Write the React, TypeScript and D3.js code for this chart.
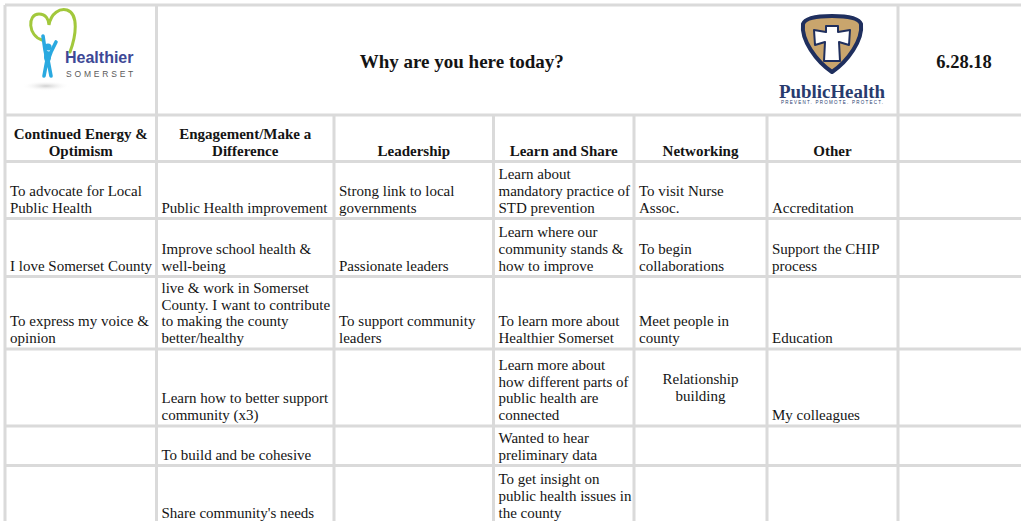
import { useEffect, useRef } from "react";
import * as d3 from "d3";

// column headers
const categories = [
  "Continued Energy &\nOptimism",
  "Engagement/Make a\nDifference",
  "Leadership",
  "Learn and Share",
  "Networking",
  "Other",
  "",
];

// responses per column (top to bottom)
const continuedEnergy = [
  "To advocate for Local\nPublic Health",
  "I love Somerset County",
  "To express my voice &\nopinion",
  "",
  "",
  "",
];
const engagement = [
  "Public Health improvement",
  "Improve school health &\nwell-being",
  "live & work in Somerset\nCounty. I want to contribute\nto making the county\nbetter/healthy",
  "Learn how to better support\ncommunity (x3)",
  "To build and be cohesive",
  "Share community's needs",
];
const leadership = [
  "Strong link to local\ngovernments",
  "Passionate leaders",
  "To support community\nleaders",
  "",
  "",
  "",
];
const learnShare = [
  "Learn about\nmandatory practice of\nSTD prevention",
  "Learn where our\ncommunity stands &\nhow to improve",
  "To learn more about\nHealthier Somerset",
  "Learn more about\nhow different parts of\npublic health are\nconnected",
  "Wanted to hear\npreliminary data",
  "To get insight on\npublic health issues in\nthe county",
];
const networking = [
  "To visit Nurse\nAssoc.",
  "To begin\ncollaborations",
  "Meet people in\ncounty",
  "Relationship\nbuilding",
  "",
  "",
];
const other = [
  "Accreditation",
  "Support the CHIP\nprocess",
  "Education",
  "My colleagues",
  "",
  "",
];
const blank = ["", "", "", "", "", ""];

const title = "Why are you here today?";
const dateLabel = "6.28.18";
// cells drawn centred (column, row)
const centredCells = [[4, 3]];

const App = () => {
  const svgRef = useRef<SVGSVGElement>(null);

  useEffect(() => {
    document.body.style.margin = "0";
    const svg = d3.select(svgRef.current);
    svg.selectAll("*").remove();

    const serif = "'Liberation Serif', 'Times New Roman', serif";
    const fs = 15;
    const lh = 16.7;
    const gridColor = "#dadada";

    const columns = [continuedEnergy, engagement, leadership, learnShare, networking, other, blank];
    const colWidths = [151.5, 177.5, 159.5, 140.5, 133, 131, 132];
    const rowHeights = [57, 58, 72.5, 77, 39.5, 58];
    const x0 = 5;
    const topRow = 110;
    const headRow = 46.5;

    const colEdges = [x0, ...d3.cumsum(colWidths).map((w) => x0 + w)];
    const yHead = x0 + topRow;
    const yBody = yHead + headRow;
    const rowEdges = [yBody, ...d3.cumsum(rowHeights).map((h) => yBody + h)];

    const col = d3.scaleBand<number>().domain(d3.range(columns.length)).range([0, 1]);
    const left = (i: number) => colEdges[col.domain().indexOf(i)];
    const right = (i: number) => colEdges[i + 1];

    const g = svg.append("g");

    // gridlines
    const hLines = [x0, yHead, ...rowEdges];
    g.selectAll(".hline")
      .data(hLines)
      .enter()
      .append("line")
      .attr("x1", x0)
      .attr("x2", 1030)
      .attr("y1", (d) => d)
      .attr("y2", (d) => d)
      .attr("stroke", gridColor)
      .attr("stroke-width", 3);

    // verticals: full height for edges present in the top row, else from header row
    const topEdges = [0, 1, 6];
    g.selectAll(".vline")
      .data(colEdges.slice(0, 7))
      .enter()
      .append("line")
      .attr("x1", (d) => d)
      .attr("x2", (d) => d)
      .attr("y1", (_, i) => (topEdges.includes(i) ? x0 : yHead))
      .attr("y2", 530)
      .attr("stroke", gridColor)
      .attr("stroke-width", 3);

    // title & date
    g.append("text")
      .attr("x", (colEdges[1] + colEdges[5]) / 2)
      .attr("y", 68)
      .attr("text-anchor", "middle")
      .attr("font-family", serif)
      .attr("font-weight", "bold")
      .attr("font-size", 19)
      .attr("fill", "#141414")
      .text(title);

    g.append("text")
      .attr("x", (colEdges[6] + colEdges[7]) / 2)
      .attr("y", 68)
      .attr("text-anchor", "middle")
      .attr("font-family", serif)
      .attr("font-weight", "bold")
      .attr("font-size", 18.5)
      .attr("fill", "#141414")
      .text(dateLabel);

    // multi-line text helper, bottom aligned unless centred
    const drawCell = (
      text: string,
      x1: number,
      x2: number,
      y1: number,
      y2: number,
      opts: { bold?: boolean; centre?: boolean; vcentre?: boolean }
    ) => {
      if (!text) return;
      const lines = text.split("\n");
      const n = lines.length;
      const firstBase = opts.vcentre
        ? (y1 + y2) / 2 - ((n - 1) * lh) / 2 + fs * 0.33
        : y2 - 6 - (n - 1) * lh;
      const t = g
        .append("text")
        .attr("font-family", serif)
        .attr("font-size", fs)
        .attr("font-weight", opts.bold ? "bold" : "normal")
        .attr("fill", "#141414")
        .attr("text-anchor", opts.centre ? "middle" : "start");
      t.selectAll("tspan")
        .data(lines)
        .enter()
        .append("tspan")
        .attr("x", opts.centre ? (x1 + x2) / 2 : x1 + 5)
        .attr("y", (_, i) => firstBase + i * lh)
        .text((d) => d);
    };

    categories.forEach((c, i) =>
      drawCell(c, left(i), right(i), yHead, yBody, { bold: true, centre: true })
    );

    columns.forEach((values, ci) => {
      values.forEach((v, ri) => {
        const centred = centredCells.some(([c, r]) => c === ci && r === ri);
        drawCell(v, left(ci), right(ci), rowEdges[ri], rowEdges[ri + 1], {
          centre: centred,
          vcentre: centred,
        });
      });
    });

    // Healthier Somerset logo
    const hs = g.append("g");
    const shadow = svg.append("defs").append("radialGradient").attr("id", "shade");
    shadow.append("stop").attr("offset", "0%").attr("stop-color", "#cfcfcf");
    shadow.append("stop").attr("offset", "100%").attr("stop-color", "#ffffff").attr("stop-opacity", 0);
    hs.append("ellipse")
      .attr("cx", 46)
      .attr("cy", 86)
      .attr("rx", 24)
      .attr("ry", 5)
      .attr("fill", "url(#shade)");
    hs.append("path")
      .attr("d", "M42 40 C28 36 27 14 39 14 C46 14 49 20 49 25 C51 13 60 8 67 10 C79 14 76 36 70 52")
      .attr("fill", "none")
      .attr("stroke", "#a2c83c")
      .attr("stroke-width", 3)
      .attr("stroke-linecap", "round");
    hs.append("circle").attr("cx", 48).attr("cy", 47).attr("r", 3.6).attr("fill", "#2aa9e0");
    hs.append("path")
      .attr("d", "M43 36 L45 50 L47 60 L44 76 M56 42 L51 52 L48 60 L51 76")
      .attr("fill", "none")
      .attr("stroke", "#2aa9e0")
      .attr("stroke-width", 3.6)
      .attr("stroke-linecap", "round")
      .attr("stroke-linejoin", "round");
    hs.append("ellipse").attr("cx", 47.5).attr("cy", 57).attr("rx", 3.5).attr("ry", 6).attr("fill", "#2aa9e0");
    hs.append("text")
      .attr("x", 65)
      .attr("y", 63)
      .attr("font-family", "'Liberation Sans', Arial, sans-serif")
      .attr("font-weight", "bold")
      .attr("font-size", 16)
      .attr("fill", "#3d4896")
      .text("Healthier");
    hs.append("text")
      .attr("x", 66)
      .attr("y", 77)
      .attr("font-family", "'Liberation Sans', Arial, sans-serif")
      .attr("font-size", 8.5)
      .attr("letter-spacing", 2.8)
      .attr("fill", "#5a5a5a")
      .text("SOMERSET");

    // Public Health logo
    const ph = g.append("g");
    ph.append("path")
      .attr("d", "M832 16 C848 16 859 18 861 24 C863 40 848 61 832 72 C816 61 801 40 803 24 C805 18 816 16 832 16 Z")
      .attr("fill", "#c9a56d")
      .attr("stroke", "#1f2f5e")
      .attr("stroke-width", 4)
      .attr("stroke-linejoin", "round");
    ph.append("path")
      .attr(
        "d",
        "M826 26 L838 26 L838 32 L850 30 L849 45 L839 42 L840 61 L824 61 L825 42 L815 45 L814 30 L826 32 Z"
      )
      .attr("fill", "#ffffff")
      .attr("stroke", "#1f2f5e")
      .attr("stroke-width", 2)
      .attr("stroke-linejoin", "round");
    ph.append("text")
      .attr("x", 779)
      .attr("y", 98)
      .attr("font-family", serif)
      .attr("font-weight", "bold")
      .attr("font-size", 18)
      .attr("textLength", 106)
      .attr("lengthAdjust", "spacingAndGlyphs")
      .attr("fill", "#283b6e")
      .text("PublicHealth");
    ph.append("text")
      .attr("x", 781)
      .attr("y", 104)
      .attr("font-family", "'Liberation Sans', Arial, sans-serif")
      .attr("font-size", 4.5)
      .attr("textLength", 102)
      .attr("fill", "#283b6e")
      .text("PREVENT.   PROMOTE.   PROTECT.");
  }, []);

  return (
    <svg
      ref={svgRef}
      width={1021}
      height={521}
      style={{ display: "block", background: "#ffffff" }}
    ></svg>
  );
};

export default App;
